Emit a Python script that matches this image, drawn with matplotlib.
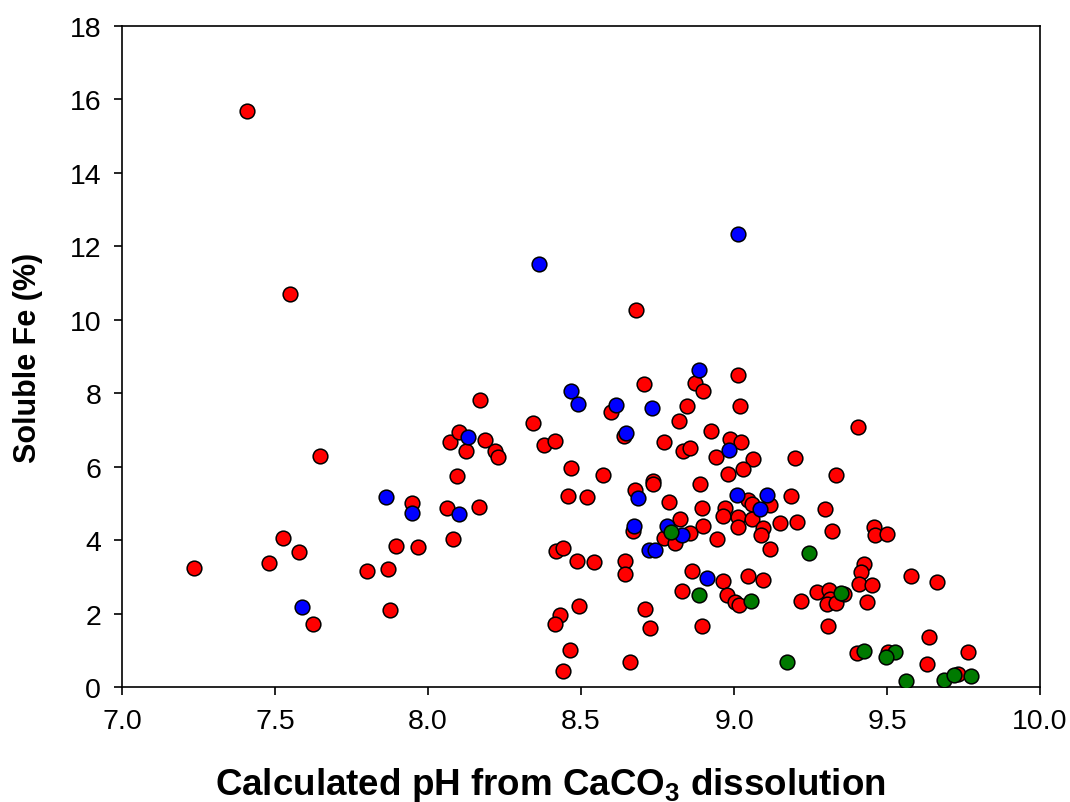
import matplotlib
matplotlib.use("Agg")
import matplotlib.pyplot as plt

plt.rcParams['font.family'] = ['Liberation Sans', 'DejaVu Sans']
plt.rcParams['mathtext.fontset'] = 'custom'
plt.rcParams['mathtext.rm'] = 'Liberation Sans'
plt.rcParams['mathtext.bf'] = 'Liberation Sans:bold'

# Calculated pH vs soluble Fe (%), three sample groups
red_ph = [7.235, 7.41, 7.549, 7.647, 7.481, 7.527, 7.58, 7.625, 7.80, 7.87, 7.876, 7.896,
          7.967, 7.947, 8.063, 8.083, 8.095, 8.072, 8.102, 8.166, 8.169, 8.187, 8.124, 8.22,
          8.228, 8.344, 8.379, 8.416, 8.418, 8.442, 8.459, 8.467, 8.486, 8.521, 8.544, 8.573,
          8.598, 8.642, 8.645, 8.645, 8.432, 8.415, 8.494, 8.465, 8.442, 8.66, 8.681, 8.705,
          8.871, 8.898, 9.012, 8.847, 9.02, 8.821, 8.925, 8.77, 8.987, 9.022, 8.832, 8.856,
          8.941, 9.063, 9.199, 9.406, 8.734, 8.736, 8.889, 8.98, 9.03, 9.332, 8.678, 8.788,
          8.895, 8.972, 8.965, 9.045, 9.058, 9.012, 9.058, 9.014, 8.898, 8.824, 8.856, 8.943,
          8.77, 8.807, 8.671, 8.862, 8.963, 9.047, 8.829, 8.976, 9.003, 9.017, 8.709, 8.727,
          8.895, 9.096, 9.118, 9.186, 9.297, 9.15, 9.205, 9.319, 9.094, 9.087, 9.118, 9.458,
          9.461, 9.499, 9.425, 9.415, 9.408, 9.452, 9.578, 9.664, 9.218, 9.27, 9.312, 9.314,
          9.305, 9.332, 9.359, 9.436, 9.308, 9.637, 9.763, 9.401, 9.504, 9.63, 9.733]
red_fe = [3.24, 15.69, 10.71, 6.28, 3.38, 4.06, 3.67, 1.72, 3.15, 3.20, 2.10, 3.85,
          3.80, 5.00, 4.87, 4.03, 5.75, 6.68, 6.94, 4.89, 7.81, 6.73, 6.43, 6.42,
          6.27, 7.19, 6.59, 6.71, 3.69, 3.79, 5.20, 5.96, 3.42, 5.18, 3.41, 5.77,
          7.50, 6.83, 3.42, 3.09, 1.96, 1.72, 2.20, 1.02, 0.43, 0.69, 10.26, 8.24,
          8.29, 8.06, 8.49, 7.66, 7.64, 7.25, 6.98, 6.67, 6.75, 6.66, 6.43, 6.50,
          6.27, 6.22, 6.23, 7.09, 5.60, 5.54, 5.52, 5.80, 5.94, 5.78, 5.37, 5.05,
          4.87, 4.88, 4.67, 5.10, 4.98, 4.64, 4.58, 4.35, 4.38, 4.58, 4.19, 4.02,
          4.05, 3.93, 4.24, 3.17, 2.88, 3.03, 2.61, 2.51, 2.31, 2.22, 2.12, 1.61,
          1.67, 2.92, 4.96, 5.21, 4.84, 4.46, 4.48, 4.26, 4.33, 4.14, 3.76, 4.35,
          4.15, 4.18, 3.35, 3.14, 2.80, 2.78, 3.01, 2.87, 2.35, 2.58, 2.65, 2.40,
          2.26, 2.29, 2.53, 2.31, 1.65, 1.35, 0.94, 0.92, 0.96, 0.63, 0.35]

blue_ph = [7.588, 7.862, 7.947, 8.10, 8.132, 8.363, 9.014, 8.885, 8.466, 8.49, 8.614, 8.732,
           8.648, 8.983, 8.687, 9.011, 9.086, 9.107, 8.78, 8.829, 8.673, 8.722, 8.742, 8.913]
blue_fe = [2.19, 5.17, 4.75, 4.70, 6.80, 11.52, 12.34, 8.63, 8.07, 7.71, 7.69, 7.60,
           6.93, 6.46, 5.14, 5.24, 4.85, 5.23, 4.39, 4.14, 4.38, 3.73, 3.74, 2.97]

green_ph = [8.794, 8.887, 9.055, 9.246, 9.349, 9.172, 9.426, 9.526, 9.496, 9.561, 9.686, 9.72, 9.775]
green_fe = [4.23, 2.50, 2.33, 3.65, 2.56, 0.67, 0.99, 0.94, 0.81, 0.16, 0.20, 0.33, 0.31]

x_ticks = [7.0, 7.5, 8.0, 8.5, 9.0, 9.5, 10.0]
y_ticks = [0, 2, 4, 6, 8, 10, 12, 14, 16, 18]

fig = plt.figure(figsize=(10.7, 8.03), dpi=100)
ax = fig.add_axes([0.114, 0.1432, 0.858, 0.8232])

marker_kw = dict(s=112, edgecolors='black', linewidths=1.1, zorder=3)
ax.scatter(red_ph, red_fe, c='#ff0000', **marker_kw)
ax.scatter(blue_ph, blue_fe, c='#0000ff', **marker_kw)
ax.scatter(green_ph, green_fe, c='#007a00', **marker_kw)

ax.set_xlim(7.0, 10.0)
ax.set_ylim(0, 18)
ax.set_xticks(x_ticks)
ax.set_xticklabels([f"{v:.1f}" for v in x_ticks])
ax.set_yticks(y_ticks)
ax.tick_params(axis='both', direction='out', length=6, width=1.2, labelsize=20.5,
               top=False, right=False, pad=9)
for sp in ax.spines.values():
    sp.set_linewidth(1.2)

ax.set_xlabel(r"Calculated pH from CaCO$\mathbf{_3}$ dissolution",
              fontsize=26.5, fontweight='bold', va='baseline')
ax.xaxis.set_label_coords(0.467, -(795 - 688) / 661)
ax.set_ylabel("Soluble Fe (%)", fontsize=22, fontweight='bold', va='center')
ax.yaxis.set_label_coords(-(122 - 27.7) / 918, 0.5)

fig.savefig("out.png", dpi=100)
